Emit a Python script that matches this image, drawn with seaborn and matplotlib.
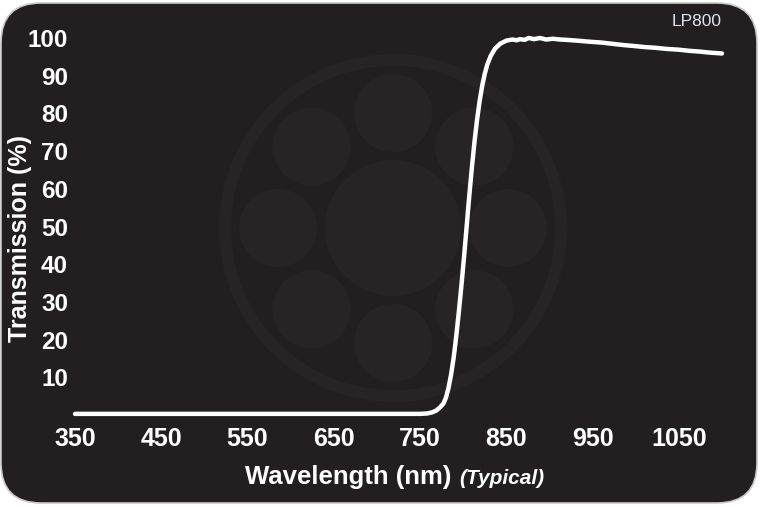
import numpy as np
import pandas as pd
import matplotlib
matplotlib.use("Agg")
import matplotlib.pyplot as plt
from matplotlib.patches import FancyBboxPatch, Circle
import seaborn as sns

# ---- data ----
wavelength = [350, 400, 500, 600, 700, 750, 758, 764, 769, 773, 777, 780, 783, 786, 789, 792,
              795, 798, 801, 804, 807, 810, 813, 816, 819, 822, 825, 828, 832, 837, 843, 850,
              857, 862, 866, 871, 876, 882, 889, 896, 904, 912, 920, 932, 947, 960, 975, 987,
              997, 1010, 1023, 1036, 1050, 1062, 1074, 1087, 1100]
transmission = [0.3, 0.3, 0.3, 0.3, 0.3, 0.3, 0.4, 0.7, 1.2, 2.0, 3.0, 4.6, 7.2, 10.8, 15.3, 21.0,
                27.5, 34.5, 42.0, 50.0, 58.0, 65.5, 72.3, 78.2, 83.2, 87.3, 90.5, 93.0, 95.3, 97.2, 98.5, 99.3,
                99.6, 99.4, 99.7, 99.5, 100.0, 99.7, 100.0, 99.6, 99.8, 99.6, 99.5, 99.3, 99.0, 98.8, 98.4, 98.1,
                97.9, 97.6, 97.4, 97.1, 96.9, 96.6, 96.4, 96.1, 95.9]
x_ticks = [350, 450, 550, 650, 750, 850, 950, 1050]
y_ticks = [10, 20, 30, 40, 50, 60, 70, 80, 90, 100]
filter_name = "LP800"

df = pd.DataFrame({"wavelength": wavelength, "transmission": transmission})

W, H = 760, 508
fig = plt.figure(figsize=(W / 100, H / 100), dpi=100)
fig.patch.set_facecolor("white")
FONT = ["Liberation Sans", "DejaVu Sans"]

# background card + watermark (pixel coordinates)
bg = fig.add_axes([0, 0, 1, 1])
bg.set_xlim(0, W)
bg.set_ylim(H, 0)
bg.axis("off")
bg.add_patch(FancyBboxPatch((1, 3), 756, 500, boxstyle="round,pad=0,rounding_size=40",
                            fc="#231f20", ec="#c9c9c9", lw=1.2))
cx, cy = 393, 228
wm = "#282425"
bg.add_patch(Circle((cx, cy), 168, fill=False, ec=wm, lw=8.5))
bg.add_patch(Circle((cx, cy), 68, fc=wm, ec="none"))
for k in range(8):
    a = np.deg2rad(k * 45)
    bg.add_patch(Circle((cx + 115 * np.cos(a), cy + 115 * np.sin(a)), 39, fc=wm, ec="none"))

# main plot
ax = fig.add_axes([75 / W, (H - 415) / H, (722 - 75) / W, (415 - 38) / H])
ax.set_facecolor("none")
sns.lineplot(data=df, x="wavelength", y="transmission", ax=ax, color="white",
             lw=3.2, clip_on=False, solid_joinstyle="round", solid_capstyle="round")
ax.set_xlim(350, 1100)
ax.set_ylim(0, 100)
for s in ax.spines.values():
    s.set_visible(False)
ax.set_xticks(x_ticks)
ax.set_yticks(y_ticks)
ax.set_xticklabels([str(t) for t in x_ticks], fontsize=18, fontweight="bold", color="white", family=FONT)
ax.set_yticklabels([str(t) for t in y_ticks], fontsize=17.5, fontweight="bold", color="white", family=FONT)
ax.tick_params(axis="both", length=0)
ax.tick_params(axis="x", pad=9)
ax.tick_params(axis="y", pad=5)
ax.set_xlabel("")
ax.set_ylabel("")

fig.text(20 / W, 1 - 239 / H, "Transmission (%)", rotation=90, ha="center", va="center",
         fontsize=18, fontweight="bold", color="white", family=FONT)
fig.text(245 / W, 1 - 477 / H, "Wavelength (nm)", ha="left", va="center",
         fontsize=18.5, fontweight="bold", color="white", family=FONT)
fig.text(459 / W, 1 - 478 / H, "(Typical)", ha="left", va="center",
         fontsize=15, fontweight="bold", style="italic", color="white", family=FONT)
fig.text(722 / W, 1 - 21 / H, filter_name, ha="right", va="center",
         fontsize=12.5, color="#dce5ee", family=FONT)

fig.savefig("out.png", dpi=100, facecolor=fig.get_facecolor())
